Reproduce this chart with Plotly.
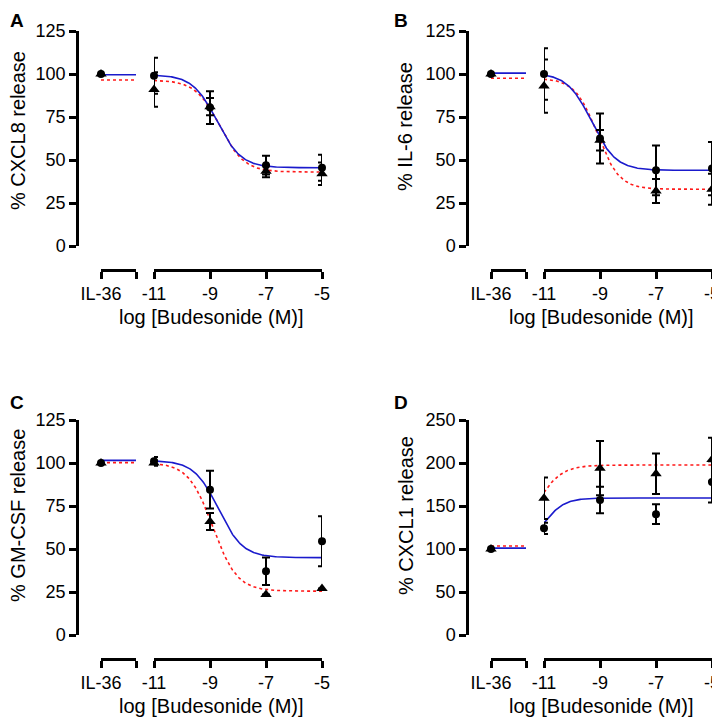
import numpy as np
import plotly.graph_objects as go

# ---------------- data ----------------
panel_letters = ["A", "B", "C", "D"]
y_titles = ["% CXCL8 release", "% IL-6 release", "% GM-CSF release", "% CXCL1 release"]
x_title = "log [Budesonide (M)]"
log_conc = [-11, -9, -7, -5]
main_ticks = [-11, -9, -7, -5]
main_ticklabels = ["-11", "-9", "-7", "-5"]
control_label = "IL-36"

y_ticks_A = [0, 25, 50, 75, 100, 125]
y_ticks_B = [0, 25, 50, 75, 100, 125]
y_ticks_C = [0, 25, 50, 75, 100, 125]
y_ticks_D = [0, 50, 100, 150, 200, 250]

# circles (blue solid fit) and triangles (red dotted fit): mean and error
A_circ = [99, 80.5, 47, 45.5];   A_circ_err = [10.5, 9.5, 5.5, 7.5]
A_tri = [91, 81, 43.5, 42];      A_tri_err = [10, 5, 3.5, 6.5]
B_circ = [100, 62.5, 44, 45];    B_circ_err = [15, 14.5, 14.5, 15.5]
B_tri = [93, 61.5, 32, 33];      B_tri_err = [15.5, 6, 7, 9]
C_circ = [101, 84.5, 37, 54.5];  C_circ_err = [2.5, 11, 8, 14.5]
C_tri = [100, 66, 23.5, 27];     C_tri_err = [1.5, 5, 0, 0]
D_circ = [124, 157, 140.5, 178]; D_circ_err = [6.5, 15.5, 11.5, 24]
D_tri = [159, 194, 187.5, 204];  D_tri_err = [24, 31.5, 23.5, 25.5]

# IL-36 control values (circle, triangle)
il36_circ = [100, 100, 100, 100]
il36_tri = [100, 100, 100, 100]

# fitted 4-parameter curves: (bottom, top, logEC50, hill)
A_fit_circ = (45.5, 99.6, -8.75, 1.0); A_fit_tri = (43.0, 96.5, -8.65, 1.0)
B_fit_circ = (44.0, 100.5, -9.3, 1.0); B_fit_tri = (33.0, 97.5, -9.1, 1.1)
C_fit_circ = (45.0, 101.5, -8.7, 1.0); C_fit_tri = (25.5, 100.2, -8.9, 1.0)
D_fit_circ = (101.0, 159.3, -11.0, 1.2); D_fit_tri = (103.5, 197.7, -11.29, 1.0)
# level of each fit line over the IL-36 segment (circle, triangle)
A_il36_line = (99.6, 96.5)
B_il36_line = (100.5, 97.5)
C_il36_line = (101.5, 100.2)
D_il36_line = (101.0, 103.5)

# ---------------- layout geometry ----------------
W, H = 720, 718
PAGE_OFF = 8  # the page body margin shifts the figure by this many pixels


def fx(p):
    return (p - PAGE_OFF) / W


def fy(p):
    return 1 - (p - PAGE_OFF) / H


panels = [
    dict(circ=A_circ, ce=A_circ_err, tri=A_tri, te=A_tri_err, fc=A_fit_circ, ft=A_fit_tri,
         il=A_il36_line, yt=y_ticks_A, ox=0, oy=0, decreasing=True),
    dict(circ=B_circ, ce=B_circ_err, tri=B_tri, te=B_tri_err, fc=B_fit_circ, ft=B_fit_tri,
         il=B_il36_line, yt=y_ticks_B, ox=390, oy=0, decreasing=True),
    dict(circ=C_circ, ce=C_circ_err, tri=C_tri, te=C_tri_err, fc=C_fit_circ, ft=C_fit_tri,
         il=C_il36_line, yt=y_ticks_C, ox=0, oy=389, decreasing=True),
    dict(circ=D_circ, ce=D_circ_err, tri=D_tri, te=D_tri_err, fc=D_fit_circ, ft=D_fit_tri,
         il=D_il36_line, yt=y_ticks_D, ox=390, oy=389, decreasing=False),
]
ytitle_pos = [(18, 131), (405, 127), (18, 516), (406, 516)]
letter_pos = [(8, 8), (392, 8), (8, 390), (392, 390)]

FONT = "Liberation Sans, Arial, sans-serif"
BLUE = "#1a1acc"
RED = "#ff1a1a"
LW_AX = 2.5


def four_pl(x, p, decreasing):
    bottom, top, ec, hill = p
    if decreasing:
        return bottom + (top - bottom) / (1 + 10 ** ((x - ec) * hill))
    return bottom + (top - bottom) / (1 + 10 ** ((ec - x) * hill))


fig = go.Figure()
layout = dict(width=W, height=H, margin=dict(l=0, r=0, t=0, b=0, pad=0, autoexpand=False),
              paper_bgcolor="white", plot_bgcolor="white", showlegend=False,
              font=dict(family=FONT, color="black", size=18))
annotations = []
xcurve = np.linspace(-11, -5, 200)

for i, P in enumerate(panels):
    ox, oy = P["ox"], P["oy"]
    yname = "y" if i == 0 else f"y{i+1}"
    xil = 4 * i + 1
    xmain = 4 * i + 2
    xil_o = 4 * i + 3
    xmain_o = 4 * i + 4

    def xn(k):
        return "x" if k == 1 else f"x{k}"

    def xk(k):
        return "xaxis" if k == 1 else f"xaxis{k}"

    yk = "yaxis" if i == 0 else f"yaxis{i+1}"

    ymax = P["yt"][-1]
    layout[yk] = dict(domain=[fy(246 + oy), fy(31 + oy)], range=[0, ymax],
                      anchor="free", position=fx(77 + ox), tickvals=P["yt"], automargin=False,
                      showline=True, linewidth=LW_AX, linecolor="black",
                      ticks="outside", ticklen=7, tickwidth=LW_AX, tickcolor="black",
                      showgrid=False, zeroline=False, tickfont=dict(size=18))
    axpos = fy(270 + oy)
    common = dict(anchor="free", position=axpos, showline=True, linewidth=LW_AX, automargin=False,
                  linecolor="black", ticklen=7, tickwidth=LW_AX, tickcolor="black",
                  showgrid=False, zeroline=False, tickfont=dict(size=18))
    layout[xk(xil)] = dict(domain=[fx(101 + ox), fx(136 + ox)], range=[0, 1],
                           tickvals=[0, 1], ticktext=[control_label, ""], ticks="outside", **common)
    layout[xk(xmain)] = dict(domain=[fx(154 + ox), fx(322 + ox)], range=[-11, -5],
                             tickvals=main_ticks, ticktext=main_ticklabels, ticks="outside", **common)
    # overlay axes giving the crossing end ticks
    layout[xk(xil_o)] = dict(domain=[fx(101 + ox), fx(136 + ox)], range=[0, 1], overlaying=xn(xil),
                             tickvals=[1], ticks="inside", showticklabels=False, **common)
    layout[xk(xmain_o)] = dict(domain=[fx(154 + ox), fx(322 + ox)], range=[-11, -5], overlaying=xn(xmain),
                               tickvals=[-11], ticks="inside", showticklabels=False, **common)

    # fit lines over IL-36 segment
    fig.add_trace(go.Scatter(x=[0, 1], y=[P["il"][1]] * 2, xaxis=xn(xil), yaxis=yname, mode="lines",
                             line=dict(color=RED, width=1.6, dash="3px,3px"), cliponaxis=False))
    fig.add_trace(go.Scatter(x=[0, 1], y=[P["il"][0]] * 2, xaxis=xn(xil), yaxis=yname, mode="lines",
                             line=dict(color=BLUE, width=1.6), cliponaxis=False))
    # fitted curves
    fig.add_trace(go.Scatter(x=xcurve, y=four_pl(xcurve, P["ft"], P["decreasing"]), xaxis=xn(xmain),
                             yaxis=yname, mode="lines", line=dict(color=RED, width=1.6, dash="3px,3px"),
                             cliponaxis=False))
    fig.add_trace(go.Scatter(x=xcurve, y=four_pl(xcurve, P["fc"], P["decreasing"]), xaxis=xn(xmain),
                             yaxis=yname, mode="lines", line=dict(color=BLUE, width=1.6), cliponaxis=False))
    # invisible anchors for overlay axes
    fig.add_trace(go.Scatter(x=[0.5], y=[0], xaxis=xn(xil_o), yaxis=yname, mode="markers",
                             marker=dict(opacity=0), hoverinfo="skip"))
    fig.add_trace(go.Scatter(x=[-8], y=[0], xaxis=xn(xmain_o), yaxis=yname, mode="markers",
                             marker=dict(opacity=0), hoverinfo="skip"))
    # IL-36 control points
    fig.add_trace(go.Scatter(x=[0], y=[il36_tri[i]], xaxis=xn(xil), yaxis=yname, mode="markers",
                             marker=dict(symbol="triangle-up", size=10, color="black"), cliponaxis=False))
    fig.add_trace(go.Scatter(x=[0], y=[il36_circ[i]], xaxis=xn(xil), yaxis=yname, mode="markers",
                             marker=dict(symbol="circle", size=8, color="black"), cliponaxis=False))
    # data points with error bars
    fig.add_trace(go.Scatter(x=log_conc, y=P["tri"], xaxis=xn(xmain), yaxis=yname, mode="markers",
                             marker=dict(symbol="triangle-up", size=10, color="black"),
                             error_y=dict(type="data", array=P["te"], color="black", thickness=2, width=4),
                             cliponaxis=False))
    fig.add_trace(go.Scatter(x=log_conc, y=P["circ"], xaxis=xn(xmain), yaxis=yname, mode="markers",
                             marker=dict(symbol="circle", size=8, color="black"),
                             error_y=dict(type="data", array=P["ce"], color="black", thickness=2, width=4),
                             cliponaxis=False))

    # x axis title centred on the whole broken axis
    annotations.append(dict(text=x_title, x=fx((101 + 322) / 2 + ox), y=fy(317 + oy), xref="paper",
                            yref="paper", showarrow=False, xanchor="center", yanchor="middle",
                            font=dict(size=20)))
    tx, ty = ytitle_pos[i]
    annotations.append(dict(text=y_titles[i], x=fx(tx), y=fy(ty), xref="paper", yref="paper",
                            showarrow=False, textangle=-90, xanchor="center", yanchor="middle",
                            font=dict(size=20)))
    lx, ly = letter_pos[i]
    annotations.append(dict(text="<b>" + panel_letters[i] + "</b>", x=fx(lx), y=fy(ly), xref="paper",
                            yref="paper", showarrow=False, xanchor="left", yanchor="top",
                            font=dict(size=19)))

layout["annotations"] = annotations
fig.update_layout(**layout)
fig.write_html("out.html")
